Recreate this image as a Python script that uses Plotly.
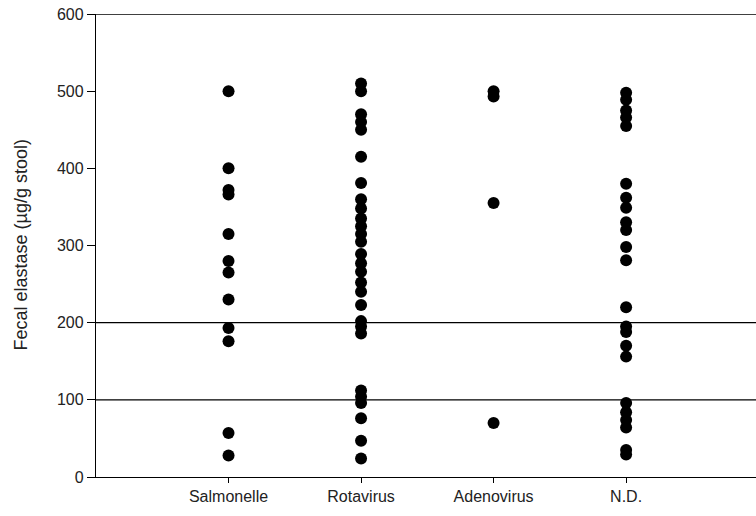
import plotly.graph_objects as go

categories = ["Salmonelle", "Rotavirus", "Adenovirus", "N.D."]
salmonelle = [500, 400, 372, 366, 315, 280, 265, 230, 193, 176, 57, 28]
rotavirus = [510, 500, 470, 460, 450, 415, 381, 360, 348, 335, 325, 315, 305,
             289, 277, 266, 252, 240, 223, 202, 195, 186, 112, 104, 96, 76, 47, 24]
adenovirus = [500, 493, 355, 70]
nd = [498, 489, 475, 466, 455, 380, 362, 349, 330, 320, 298, 281, 220, 195, 188,
      170, 156, 96, 84, 74, 64, 35, 29]
series = [salmonelle, rotavirus, adenovirus, nd]
ref_lines = [100, 200, 600]
y_ticks = [0, 100, 200, 300, 400, 500, 600]

fig = go.Figure()
for i, vals in enumerate(series):
    fig.add_trace(go.Scatter(
        x=[i + 1] * len(vals), y=vals, mode="markers",
        marker=dict(color="black", size=12),
        showlegend=False, cliponaxis=False,
    ))

for v in ref_lines:
    fig.add_shape(type="line", xref="paper", x0=0, x1=1, yref="y", y0=v, y1=v,
                  line=dict(color="black", width=1.3), layer="below")

font = dict(family="Liberation Sans, Arial, sans-serif", color="#222222")
fig.add_annotation(
    text="Fecal elastase (µg/g stool)", textangle=-90,
    xref="paper", yref="paper", x=(20 - 96) / 660, y=0.5,
    xanchor="center", yanchor="middle", showarrow=False,
    font=dict(size=18, **font),
)
fig.update_layout(
    width=756, height=516,
    margin=dict(l=96, r=0, t=14, b=39, autoexpand=False),
    paper_bgcolor="white", plot_bgcolor="white",
    font=font,
    xaxis=dict(
        range=[0, 4.98], tickmode="array", tickvals=[1, 2, 3, 4], ticktext=categories,
        showgrid=False, zeroline=False, showline=True, linecolor="black", linewidth=1.3,
        ticks="outside", ticklen=5, tickcolor="black", tickfont=dict(size=16, **font),
        automargin=False, ticklabeloverflow="allow",
    ),
    yaxis=dict(
        range=[0, 600], tickmode="array", tickvals=y_ticks,
        showgrid=False, zeroline=False, showline=True, linecolor="black", linewidth=1.3,
        ticks="outside", ticklen=8, tickcolor="black", tickfont=dict(size=16, **font),
        automargin=False, ticklabeloverflow="allow",
    ),
)

fig.write_html(
    "out.html",
    config={"displayModeBar": False},
    post_script="document.body.style.margin='0';document.body.style.overflow='hidden';",
)
